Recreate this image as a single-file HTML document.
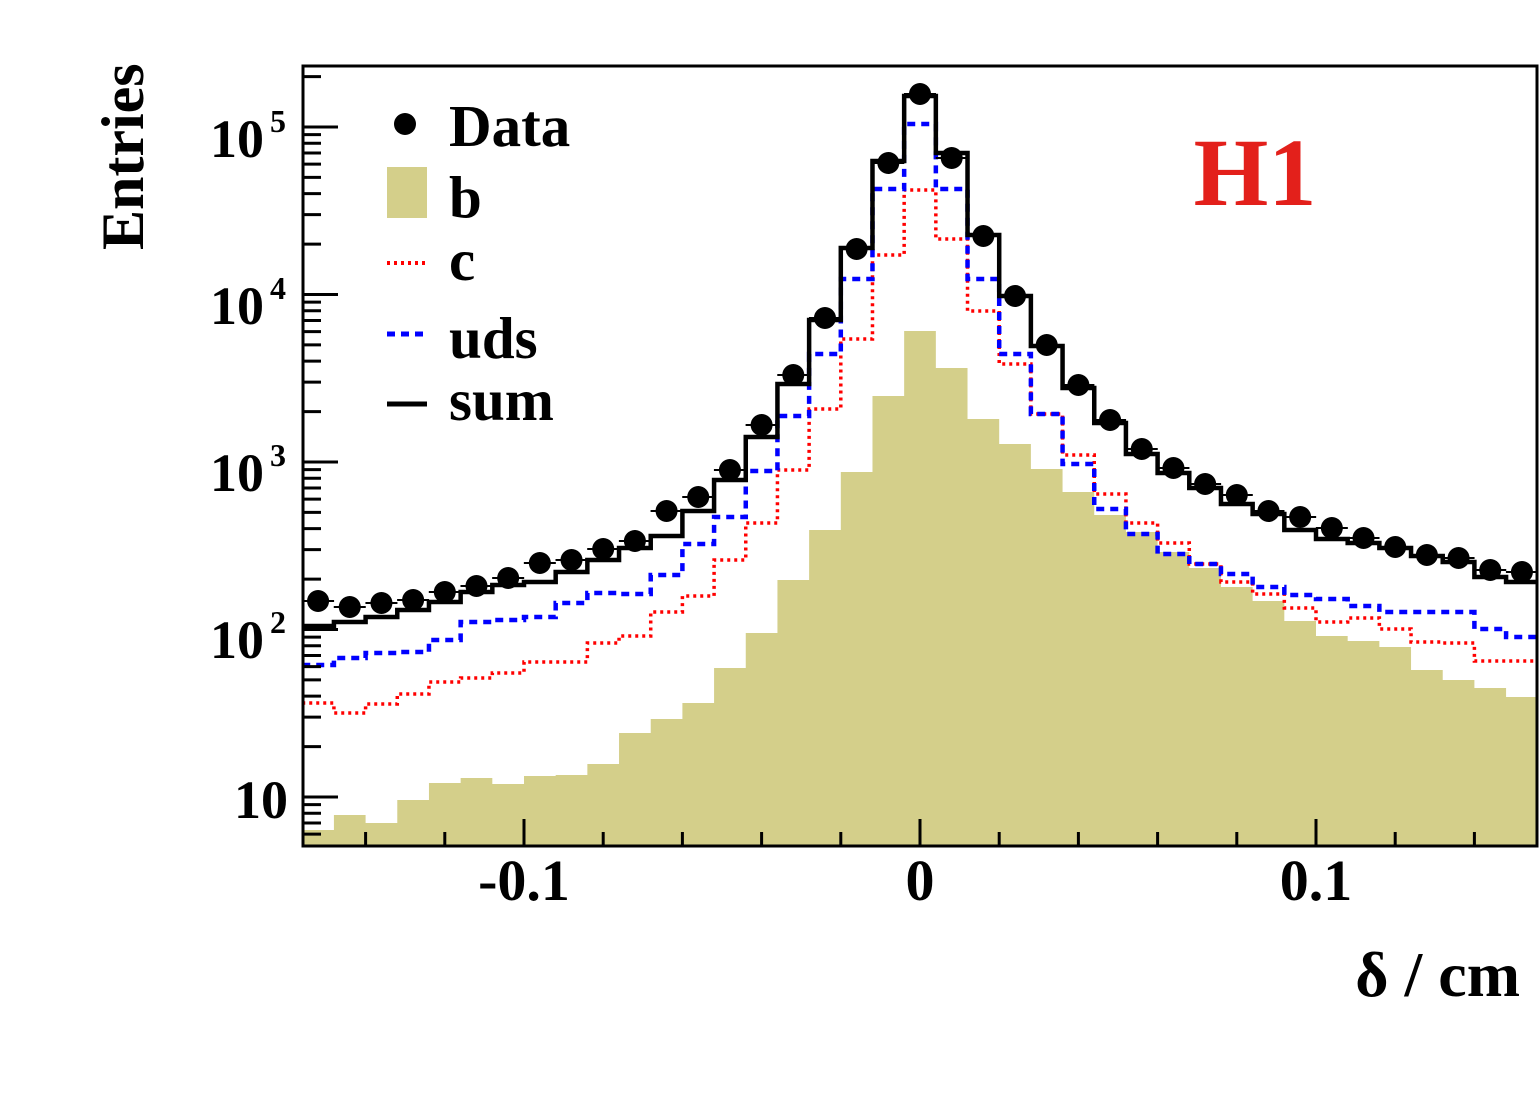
<!DOCTYPE html>
<html><head><meta charset="utf-8"><style>
html,body{margin:0;padding:0;background:#fff;}
svg{display:block;font-family:"Liberation Serif",serif;font-weight:bold;}
</style></head><body>
<svg id="s" width="1539" height="1117" viewBox="0 0 1539 1117" xmlns="http://www.w3.org/2000/svg">
<defs><clipPath id="c"><rect x="303" y="66" width="1234" height="780"/></clipPath></defs>
<g id="plot" clip-path="url(#c)"></g>
<g id="ax"></g>
<rect x="303" y="66" width="1234" height="780" fill="none" stroke="#000" stroke-width="3"/>
<text x="0" y="0" font-size="60" transform="translate(143,250) rotate(-90)">Entries</text>
<text x="1520" y="996" font-size="64" text-anchor="end">δ / cm</text>
<text x="1255" y="205" font-size="96" fill="#e3201b" text-anchor="middle">H1</text>
<g font-size="59">
<circle cx="405" cy="124" r="11" fill="#000"/><text x="449" y="146">Data</text>
<rect x="387" y="167" width="40" height="51" fill="#d4cf8a"/><text x="449" y="217">b</text>
<line x1="387" y1="263" x2="427" y2="263" stroke="#f00" stroke-width="4" stroke-dasharray="3,4"/><text x="449" y="280">c</text>
<line x1="387" y1="334" x2="427" y2="334" stroke="#00f" stroke-width="5" stroke-dasharray="8,6"/><text x="449" y="358">uds</text>
<line x1="387" y1="404" x2="427" y2="404" stroke="#000" stroke-width="5"/><text x="449" y="420">sum</text>
</g>
<g font-size="58" text-anchor="middle">
<text x="524" y="900">-0.1</text><text x="920" y="900">0</text><text x="1316" y="900">0.1</text>
</g>
<g font-size="54" text-anchor="end">
<text x="264" y="157">10</text><text x="286" y="132" font-size="32">5</text>
<text x="264" y="324">10</text><text x="286" y="299" font-size="32">4</text>
<text x="264" y="491">10</text><text x="286" y="466" font-size="32">3</text>
<text x="264" y="658">10</text><text x="286" y="633" font-size="32">2</text>
<text x="288" y="818">10</text>
</g>
</svg>
<script>
var NS="http://www.w3.org/2000/svg";
function el(p,t,a){var e=document.createElementNS(NS,t);for(var k in a)e.setAttribute(k,a[k]);p.appendChild(e);return e;}
var plot=document.getElementById('plot'),ax=document.getElementById('ax');
var W=31.68;
var data=[601,607,603,600,592,586,578,563,560,549,541,511,497,470,425,375,318,249,163,94,158,236,296,345,385,420,449,468,484,495,511,517,528,538,547,555,558,570,572];
var sum=[626,622,617,610,602,592,585,582,572,560,548,536,511,480,437,384,320,248,161,96,153,235,296,346,388,423,454,473,488,504,514,530,539,543,548,556,562,577,582];
var uds=[665,658,653,652,640,622,620,617,603,593,594,575,544,517,471,416,354,279,189,124,189,279,354,414,464,509,534,554,564,574,587,595,599,606,612,612,612,629,637];
var cc=[703,713,704,694,682,678,673,662,662,643,636,612,596,560,523,470,409,339,255,190,239,311,364,414,455,494,523,543,564,582,594,608,622,618,629,642,643,661,661];
var bb=[830,815,823,800,783,778,784,776,775,764,733,719,703,668,633,580,530,472,396,331,368,419,444,469,492,515,532,552,568,587,601,621,636,641,647,670,680,688,697];
function edge(i){return 920+(i-19-0.5)*W;}
function step(a){var d="M"+edge(0)+","+a[0];for(var i=0;i<a.length;i++){d+=" L"+edge(i)+","+a[i]+" L"+edge(i+1)+","+a[i];}return d;}
var bd="M"+edge(0)+",850";for(var i=0;i<bb.length;i++){bd+=" L"+edge(i)+","+bb[i]+" L"+edge(i+1)+","+bb[i];}bd+=" L"+edge(39)+",850 Z";
el(plot,'path',{d:bd,fill:'#d4cf8a'});
el(plot,'path',{d:step(cc),fill:'none',stroke:'#f00','stroke-width':3.5,'stroke-dasharray':'3,4'});
el(plot,'path',{d:step(uds),fill:'none',stroke:'#00f','stroke-width':4.5,'stroke-dasharray':'8,6'});
el(plot,'path',{d:step(sum),fill:'none',stroke:'#000','stroke-width':4.5});
for(var i=0;i<data.length;i++){var x=920+(i-19)*W;el(plot,'line',{x1:x-16,x2:x+16,y1:data[i],y2:data[i],stroke:'#000','stroke-width':2});el(plot,'circle',{cx:x,cy:data[i],r:11,fill:'#000'});}
for(var k=-7;k<=7;k++){var x=920+k*79.2;var L=(k%5==0)?27:14;el(ax,'line',{x1:x,x2:x,y1:846-L,y2:846,stroke:'#000','stroke-width':3});}
var D=167.5;
function yv(v){return 797-D*(Math.log10(v)-1);}
for(var e=0;e<6;e++){for(var m=1;m<10;m++){var v=m*Math.pow(10,e);var y=yv(v);if(y<67||y>845)continue;var L=(m==1)?35:18;el(ax,'line',{x1:303,x2:303+L,y1:y,y2:y,stroke:'#000','stroke-width':3});}}
</script>
</body></html>
